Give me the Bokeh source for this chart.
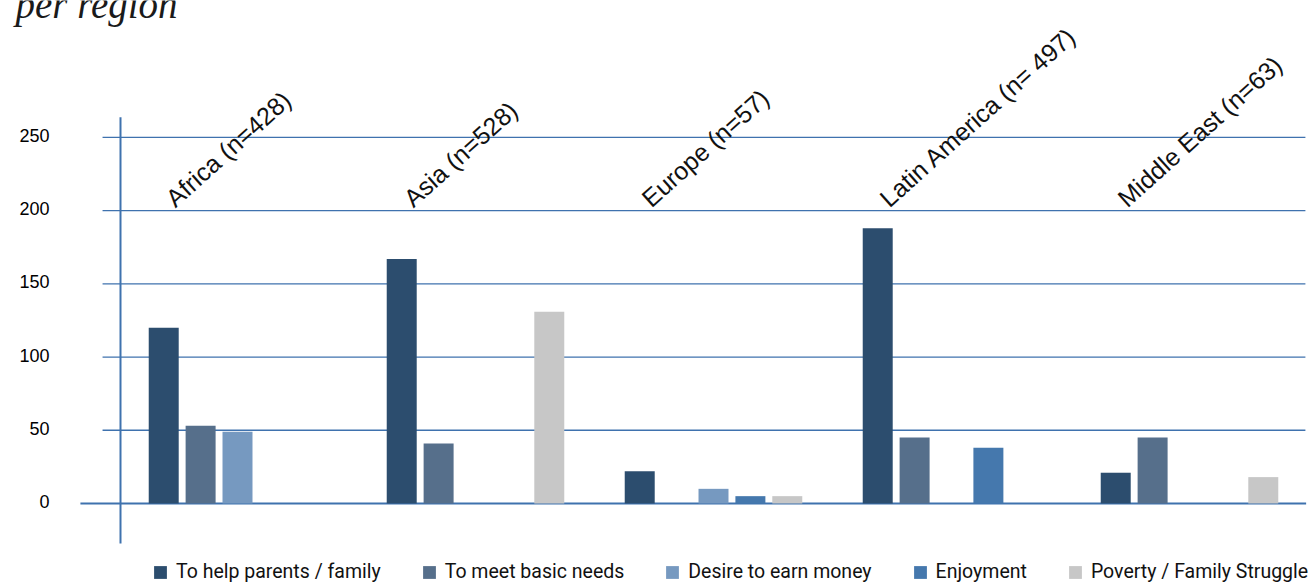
from bokeh.plotting import figure
from bokeh.models import Range1d, Legend, LegendItem, LabelSet, ColumnDataSource
from bokeh.core.properties import value
from bokeh.embed import file_html
from bokeh.resources import INLINE
import numpy as np

# ---- data ----
regions = ["Africa (n=428)", "Asia (n=528)", "Europe (n=57)",
           "Latin America (n= 497)", "Middle East (n=63)"]
series = ["To help parents / family", "To meet basic needs", "Desire to earn money",
          "Enjoyment", "Poverty / Family Struggle"]
help_family = [120, 167, 22, 188, 21]
basic_needs = [53, 41, 0, 45, 45]
earn_money = [49, 0, 10, 0, 0]
enjoyment = [0, 0, 5, 38, 0]
poverty = [0, 131, 5, 0, 18]
y_ticks = [0, 50, 100, 150, 200, 250]
y_tick_labels = ["0", "50", "100", "150", "200", "250"]
title_text = "per region"

# ---- style ----
colors = ["#2c4d6e", "#566f8b", "#7699c0", "#4578ad", "#c7c7c7"]
grid_color = "#3f72ae"
dodge = 0.155
bar_w = 0.126

p = figure(width=1315, height=586, output_backend="svg", toolbar_location=None,
           x_range=Range1d(-0.9958, 4.5294), y_range=Range1d(-56.7, 343.5),
           min_border_left=0, min_border_right=0, min_border_top=0, min_border_bottom=0)
p.outline_line_color = None
p.xaxis.visible = False
p.yaxis.visible = False
p.xgrid.visible = False
p.ygrid.visible = False

# y tick labels (drawn through the data scale)
p.text(x=[-0.79] * len(y_ticks), y=y_ticks, text=y_tick_labels,
       text_font=value("Liberation Sans"), text_font_size="18px",
       text_color="#000000", text_align="right", text_baseline="middle", y_offset=-2)

# hand-drawn-like gridlines
grid_vals = y_ticks[1:]
p.segment(x0=[-0.567] * len(grid_vals), x1=[4.487] * len(grid_vals),
          y0=grid_vals, y1=grid_vals, line_color=grid_color, line_width=1.3)
# zero baseline
p.segment(x0=[-0.66], x1=[4.49], y0=[y_ticks[0]], y1=[y_ticks[0]],
          line_color=grid_color, line_width=2.2)
# vertical axis line
p.segment(x0=[-0.4916], x1=[-0.4916], y0=[-27.3], y1=[263.7],
          line_color=grid_color, line_width=2)

xs = np.arange(len(regions))
all_series = [help_family, basic_needs, earn_money, enjoyment, poverty]
items = []
for i, (name, vals, c) in enumerate(zip(series, all_series, colors)):
    src = ColumnDataSource(dict(x=xs + (i - 2) * dodge, top=vals))
    r = p.vbar(x="x", top="top", bottom=0, width=bar_w, source=src,
               fill_color=c, line_color=None)
    items.append(LegendItem(label=name, renderers=[r]))

legend = Legend(items=items, orientation="horizontal", location=(152, 3),
                padding=0, margin=0, spacing=40, label_standoff=8,
                glyph_width=16, glyph_height=16, border_line_color=None,
                background_fill_alpha=0,
                label_text_font="Roboto", label_text_font_size="19.5px",
                label_text_color="#111111")
p.add_layout(legend)

lab_src = ColumnDataSource(dict(x=xs - 0.26, y=[201.5] * len(regions), text=regions))
p.add_layout(LabelSet(x="x", y="y", text="text", source=lab_src, angle=42,
                      angle_units="deg", text_font=value("Liberation Sans"),
                      text_font_size="25px", text_color="#111111",
                      text_align="left", text_baseline="alphabetic"))

# partially visible title (top cut by the page edge, as in the reference)
p.text(x=[-0.933], y=[340.8], text=[title_text], text_font=value("Liberation Serif"),
       text_font_style="italic", text_font_size="39px", text_color="#1a1a1a",
       text_align="left", text_baseline="alphabetic")

open("out.html", "w").write(file_html(p, INLINE))
